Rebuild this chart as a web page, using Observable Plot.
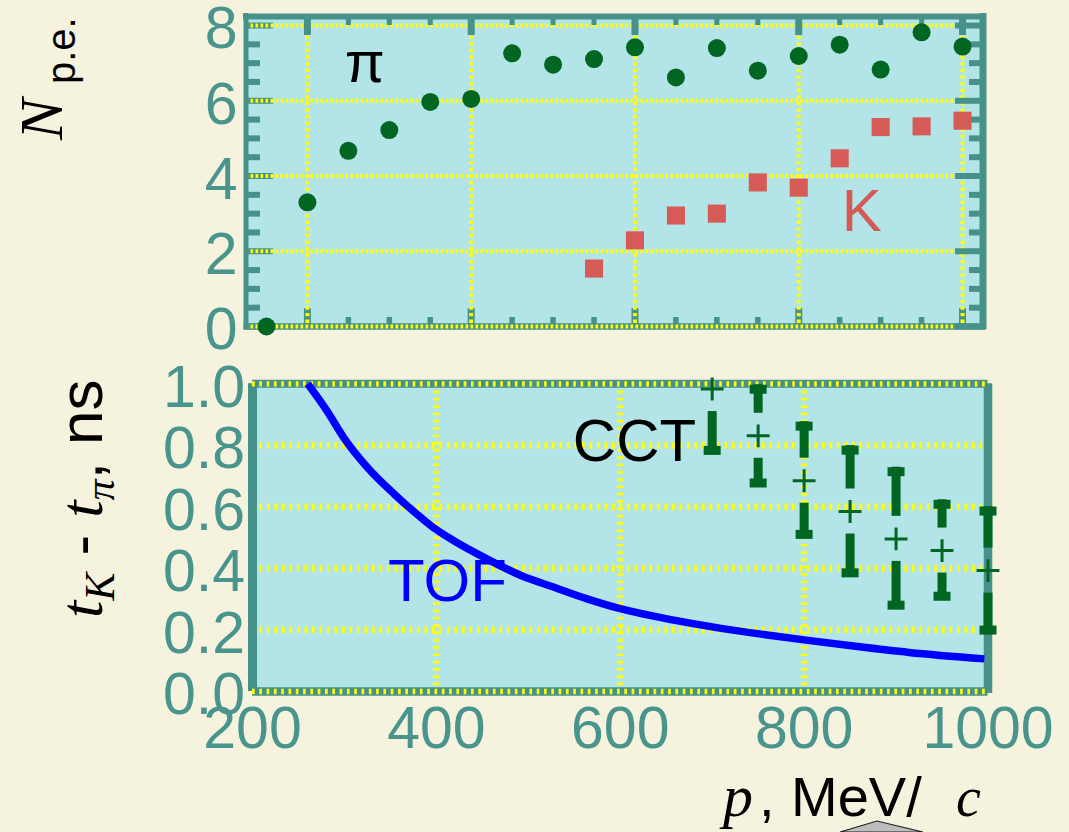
<!DOCTYPE html>
<html><head><meta charset="utf-8">
<script src="https://cdn.jsdelivr.net/npm/d3@7"></script>
<script src="https://cdn.jsdelivr.net/npm/@observablehq/plot@0.6"></script>
<style>
html,body{margin:0;padding:0;background:#f5f2de;}
#chart{position:relative;width:1069px;height:832px;overflow:hidden;background:#f5f2de;}
#chart svg{position:absolute;left:0;overflow:visible;}
</style></head><body><div id="chart"></div>
<script>
// ---------- data ----------
const pionMomentum = [150,200,250,300,350,400,450,500,550,600,650,700,750,800,850,900,950,1000];
const pionNpe      = [0,3.30,4.67,5.22,5.97,6.05,7.26,6.96,7.11,7.42,6.62,7.40,6.80,7.19,7.49,6.83,7.82,7.44];
const kaonMomentum = [550,600,650,700,750,800,850,900,950,1000];
const kaonNpe      = [1.54,2.29,2.95,3.00,3.83,3.69,4.47,5.30,5.32,5.47];

const tofMomentum = [260,281,299,325,354,383,399,419,455,492,528,564,600,651,684,708,764,802,858,914,996];
const tofDelta    = [1.0,0.912,0.826,0.728,0.642,0.566,0.528,0.490,0.431,0.377,0.339,0.301,0.269,0.236,0.218,0.206,0.182,0.167,0.146,0.127,0.106];

const cctMomentum = [700,750,800,850,900,950,1000];
const cctDelta    = [0.983,0.831,0.685,0.585,0.496,0.458,0.393];
const cctLow      = [0.769,0.663,0.496,0.371,0.266,0.295,0.185];
const cctHigh     = [1.197,0.997,0.877,0.799,0.729,0.623,0.601];

// ticks
const topXDomain = [125, 1025];
const topYDomain = [0, 8.24];
const topXMajor = [200,400,600,800,1000];
const topXMinor = [250,300,350,450,500,550,650,700,750,850,900,950];
const topYTicks = [0,2,4,6,8];
const topYMinor = [0.5,1,1.5,2.5,3,3.5,4.5,5,5.5,6.5,7,7.5];
const botXDomain = [200, 1000];
const botYDomain = [0, 1];
const botXTicks = [200,400,600,800,1000];
const botYTicks = [0,0.2,0.4,0.6,0.8,1.0];
const botYGrid = [0.2,0.4,0.6,0.8];
const botXGrid = [400,600,800];

// annotations
const topLabels = [
  {text: "π", p: 270, n: 7.0, color: "#000000", family: "'Liberation Serif', 'Times New Roman', serif", size: 58},
  {text: "K", p: 877, n: 3.06, color: "#d65a56", family: "'Liberation Sans', Arial, sans-serif", size: 60}
];
const botLabels = [
  {text: "CCT", p: 615.5, t: 0.812, color: "#000000"},
  {text: "TOF", p: 412, t: 0.358, color: "#0000ff"}
];

// ---------- styling ----------
const W = 1069;
const teal = "#46918a", tealText = "#4a948e", cyan = "#b2e4e8", yellow = "#ffff00",
      green = "#006622", red = "#d65a56", blue = "#0000ff";
const sans = "'Liberation Sans', Arial, Helvetica, sans-serif";
const serif = "'Liberation Serif', 'Times New Roman', serif";

const pions = pionMomentum.map((p, i) => ({p, n: pionNpe[i]}));
const kaons = kaonMomentum.map((p, i) => ({p, n: kaonNpe[i]}));
const tof = tofMomentum.map((p, i) => ({p, t: tofDelta[i]}));
const cct = cctMomentum.map((p, i) => ({p, t: cctDelta[i], lo: cctLow[i], hi: cctHigh[i]}));

// ---------- top panel ----------
const topH = 360, topML = 245.5, topMR = 86.5, topMT = 16, topMB = 34;
const topFW = W - topML - topMR, topFH = topH - topMT - topMB;

const topPlot = Plot.plot({
  width: W, height: topH,
  marginLeft: topML, marginRight: topMR, marginTop: topMT, marginBottom: topMB,
  x: {domain: topXDomain, axis: null},
  y: {domain: topYDomain, axis: null},
  style: {background: "transparent", overflow: "visible", fontFamily: sans, fontSize: "59px", color: tealText},
  marks: [
    Plot.frame({fill: cyan, stroke: "none"}),
    // left & bottom ticks (under grid)
    Plot.ruleY(topYMinor, {stroke: teal, strokeWidth: 6, insetRight: topFW - 14.5}),
    Plot.ruleY(topYTicks, {stroke: teal, strokeWidth: 6, insetRight: topFW - 27.5}),
    Plot.ruleX(topXMinor, {stroke: teal, strokeWidth: 5.5, insetTop: topFH - 9}),
    Plot.ruleX(topXMajor, {stroke: teal, strokeWidth: 7, insetTop: topFH - 18}),
    Plot.ruleY([topYDomain[0]], {stroke: teal, strokeWidth: 6.7, insetLeft: -2, insetRight: -3}),
    // grid
    Plot.ruleY(topYTicks, {stroke: yellow, strokeWidth: 4, strokeDasharray: "2.7,2.3"}),
    Plot.ruleX(topXMajor, {stroke: yellow, strokeWidth: 4, strokeDasharray: "3.3,3.3"}),
    // top & right ticks (over grid)
    Plot.ruleX(topXMinor, {stroke: teal, strokeWidth: 5, insetBottom: topFH - 9}),
    Plot.ruleX(topXMajor, {stroke: teal, strokeWidth: 7, insetBottom: topFH - 19}),
    Plot.ruleY(topYMinor, {stroke: teal, strokeWidth: 6, insetLeft: topFW - 13.5}),
    Plot.ruleY(topYTicks, {stroke: teal, strokeWidth: 6, insetLeft: topFW - 27.5}),
    // borders
    Plot.ruleX([topXDomain[0]], {stroke: teal, strokeWidth: 5, insetTop: -3, insetBottom: -3}),
    Plot.ruleX([topXDomain[1]], {stroke: teal, strokeWidth: 7, insetTop: -3, insetBottom: -3}),
    Plot.ruleY([topYDomain[1]], {stroke: teal, strokeWidth: 6, insetLeft: -2.5, insetRight: -3.5}),
    // tick labels
    Plot.axisY(topYTicks, {label: null, tickSize: 0, tickPadding: 8.5, dy: 4, fontSize: 59, fill: tealText}),
    // data
    Plot.dot(pions, {x: "p", y: "n", r: 9, fill: green}),
    Plot.dot(kaons, {x: "p", y: "n", r: 10.2, symbol: "square", fill: red}),
    Plot.text(topLabels, {x: "p", y: "n", text: "text", fill: d => d.color, fontFamily: d => d.family, fontSize: d => d.size})
  ]
});
topPlot.style.top = "0px";

// ---------- bottom panel ----------
const botTop = 350, botH = 482, botML = 252, botMR = W - 987.5, botMT = 33.3, botMB = 141;

const capSymbol = {draw(ctx) { ctx.rect(-8.5, -4.5, 17, 9); }};
const inFrame = d => d.hi <= botYDomain[1];

const botPlot = Plot.plot({
  width: W, height: botH,
  marginLeft: botML, marginRight: botMR, marginTop: botMT, marginBottom: botMB,
  x: {domain: botXDomain, axis: null},
  y: {domain: botYDomain, axis: null},
  style: {background: "transparent", overflow: "visible", fontFamily: sans, fontSize: "59px", color: tealText},
  marks: [
    Plot.frame({fill: cyan, stroke: "none"}),
    Plot.ruleY(botYGrid, {stroke: yellow, strokeWidth: 6.7, strokeDasharray: "2.7,4.8"}),
    Plot.ruleX(botXGrid, {stroke: yellow, strokeWidth: 6.7, strokeDasharray: "2.7,4.6"}),
    Plot.ruleX([botXDomain[0]], {stroke: teal, strokeWidth: 9}),
    Plot.ruleX([botXDomain[1]], {stroke: teal, strokeWidth: 8.5, insetBottom: -2}),
    Plot.ruleY([botYDomain[1]], {stroke: teal, strokeWidth: 8}),
    Plot.ruleY([botYDomain[1]], {stroke: yellow, strokeWidth: 5.3, strokeDasharray: "2.7,4.6"}),
    Plot.ruleY([botYDomain[0]], {stroke: teal, strokeWidth: 8.3}),
    Plot.ruleY([botYDomain[0]], {stroke: yellow, strokeWidth: 5.7, strokeDasharray: "2.7,4.6"}),
    Plot.axisY(botYTicks, {label: null, tickSize: 0, tickPadding: 7.5, dy: 4, tickFormat: d3.format(".1f"), fontSize: 59, fill: tealText}),
    Plot.axisX(botXTicks, {label: null, tickSize: 0, tickPadding: 14.5, tickFormat: d3.format("d"), fontSize: 59, fill: tealText}),
    Plot.line(tof, {x: "p", y: "t", stroke: blue, strokeWidth: 7.5, curve: "monotone-x", strokeLinecap: "butt"}),
    Plot.ruleX(cct, {filter: inFrame, x: "p", y1: "hi", y2: "t", insetBottom: 22.5, stroke: green, strokeWidth: 9}),
    Plot.ruleX(cct, {x: "p", y1: "t", y2: "lo", insetTop: 22.5, stroke: green, strokeWidth: 9}),
    Plot.dot(cct, {filter: inFrame, x: "p", y: "hi", symbol: capSymbol, fill: green, stroke: "none", dy: 4.5}),
    Plot.dot(cct, {x: "p", y: "lo", symbol: capSymbol, fill: green, stroke: "none", dy: -4.5}),
    Plot.dot(cct, {x: "p", y: "t", symbol: "plus", r: 7.4, stroke: green, strokeWidth: 3}),
    Plot.text(botLabels, {x: "p", y: "t", text: "text", fill: d => d.color, fontSize: 60, fontFamily: sans})
  ]
});
botPlot.style.top = botTop + "px";

const chart = document.getElementById("chart");
chart.appendChild(botPlot);
chart.appendChild(topPlot);

// ---------- axis titles ----------
const sTop = d3.select(topPlot);
const ty = sTop.append("text").attr("transform", "translate(62,140) rotate(-90)")
  .attr("fill", "#000").attr("text-anchor", "start");
ty.append("tspan").attr("font-family", serif).attr("font-style", "italic").attr("font-size", 62).text("N");
ty.append("tspan").attr("x", 56).attr("dy", 12.5).attr("font-family", sans).attr("font-size", 40).text("p.e.");

const sBot = d3.select(botPlot);
const by = sBot.append("text").attr("transform", `translate(102,${618 - botTop}) rotate(-90)`)
  .attr("fill", "#000").attr("text-anchor", "start").attr("font-size", 62);
by.append("tspan").attr("font-family", serif).attr("font-style", "italic").text("t");
by.append("tspan").attr("dy", 12).attr("font-family", serif).attr("font-style", "italic").attr("font-size", 42).text("K");
by.append("tspan").attr("dy", -12).attr("font-family", sans).text(" - ");
by.append("tspan").attr("font-family", serif).attr("font-style", "italic").text("t");
by.append("tspan").attr("dy", 12).attr("font-family", serif).attr("font-style", "italic").attr("font-size", 42).text("π");
by.append("tspan").attr("dy", -12).attr("font-family", sans).text(", ns");

const xt = sBot.append("g").attr("fill", "#000").attr("text-anchor", "start");
const base = 816 - botTop;
xt.append("text").attr("x", 723).attr("y", base).attr("font-family", serif).attr("font-style", "italic").attr("font-size", 60).text("p");
xt.append("text").attr("x", 759).attr("y", base).attr("font-family", sans).attr("font-size", 56).text(",");
xt.append("text").attr("x", 791).attr("y", base).attr("font-family", sans).attr("font-size", 56).text("MeV/");
xt.append("text").attr("x", 956).attr("y", base).attr("font-family", serif).attr("font-style", "italic").attr("font-size", 56).text("c");

// slide navigation marker at the bottom edge
sBot.append("path").attr("d", `M840,${832 - botTop} L877,${821 - botTop} L923,${832 - botTop} Z`)
  .attr("fill", "#bdbdbd").attr("stroke", "#222").attr("stroke-width", 1.2);
</script>
</body></html>
